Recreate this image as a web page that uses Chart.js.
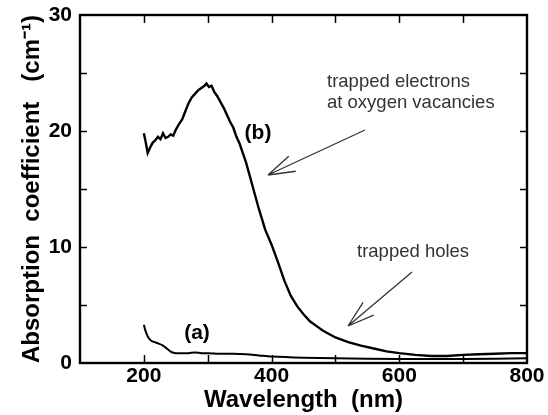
<!DOCTYPE html>
<html>
<head>
<meta charset="utf-8">
<script src="https://cdn.jsdelivr.net/npm/chart.js@4/dist/chart.umd.min.js"></script>
<style>
  html, body { margin: 0; padding: 0; background: #fff; }
  #wrap { width: 548px; height: 415px; }
</style>
</head>
<body>
<div id="wrap"><canvas id="chart" width="548" height="415"></canvas></div>
<script>
/* ── Datos ── */
const waveB = [200, 203, 206, 210, 214, 218, 222, 226, 230, 234, 238, 242, 246, 250, 255,
               260, 265, 270, 275, 280, 285, 290, 295, 298, 302, 306, 310, 315, 320, 325,
               330, 335, 340, 345, 350, 355, 360, 370, 380, 390, 400, 410, 420, 430, 440,
               450, 460, 470, 480, 490, 500, 520, 540, 560, 580, 600, 625, 650, 675, 700,
               725, 750, 775, 800];
const absB  = [19.8, 19.0, 18.1, 18.6, 19.0, 19.2, 19.5, 19.3, 19.8, 19.4, 19.5, 19.7, 19.6, 20.1, 20.6,
               21.0, 21.7, 22.4, 22.9, 23.2, 23.5, 23.7, 23.9, 24.1, 23.8, 23.9, 23.4, 23.0, 22.5, 22.0,
               21.4, 20.8, 20.3, 19.5, 18.9, 18.1, 17.3, 15.3, 13.3, 11.5, 10.2, 8.7, 7.1, 5.8, 4.9,
               4.2, 3.6, 3.2, 2.8, 2.5, 2.2, 1.8, 1.5, 1.25, 1.0, 0.85, 0.7, 0.6, 0.6, 0.7,
               0.75, 0.8, 0.85, 0.85];

const waveA = [200, 203, 207, 212, 217, 222, 230, 237, 243, 250, 260, 270, 280, 290, 300,
               320, 340, 360, 380, 400, 450, 500, 600, 700, 800];
const absA  = [3.3, 2.7, 2.2, 1.9, 1.8, 1.7, 1.5, 1.2, 0.95, 0.85, 0.85, 0.85, 0.9, 0.85, 0.85,
               0.8, 0.8, 0.75, 0.65, 0.55, 0.45, 0.4, 0.35, 0.35, 0.4];

const xTicks = [100, 200, 300, 400, 500, 600, 700, 800];
const yTicks = [0, 5, 10, 15, 20, 25, 30];

/* ── Anotaciones ── */
const notas = [
  { txt: "trapped electrons", x: 327, y: 82 },
  { txt: "at oxygen vacancies", x: 327, y: 103 },
  { txt: "trapped holes", x: 357, y: 252 },
];
const flechas = [
  { from: [365, 130], to: [268, 175] },
  { from: [412, 272], to: [348, 326] },
];

const pts = (xs, ys) => xs.map((x, i) => ({ x, y: ys[i] }));

/* ── Plugin: marco, ticks interiores, textos ── */
const marco = {
  id: "marco",
  afterDraw(chart) {
    const { ctx, chartArea: a, scales } = chart;
    ctx.save();
    ctx.strokeStyle = "#000";
    ctx.lineWidth = 2.4;
    ctx.strokeRect(a.left, a.top, a.right - a.left, a.bottom - a.top);

    // ticks hacia adentro
    ctx.lineWidth = 1.5;
    xTicks.forEach(v => {
      const px = Math.round(scales.x.getPixelForValue(v)) + 0.5;
      if (px <= a.left + 2 || px >= a.right - 2) return;
      ctx.beginPath();
      ctx.moveTo(px, a.bottom); ctx.lineTo(px, a.bottom - 8);
      ctx.moveTo(px, a.top);    ctx.lineTo(px, a.top + 8);
      ctx.stroke();
    });
    yTicks.forEach(v => {
      const py = Math.round(scales.y.getPixelForValue(v)) + 0.5;
      if (py <= a.top + 2 || py >= a.bottom - 2) return;
      ctx.beginPath();
      ctx.moveTo(a.left, py);  ctx.lineTo(a.left + 7, py);
      ctx.moveTo(a.right, py); ctx.lineTo(a.right - 7, py);
      ctx.stroke();
    });

    // etiquetas de curvas
    ctx.fillStyle = "#000";
    ctx.font = "bold 21px 'Liberation Sans', Arial, sans-serif";
    ctx.textAlign = "center";
    ctx.textBaseline = "middle";
    ctx.fillText("(b)", 258, 133);
    ctx.fillText("(a)", 197, 333);

    // notas
    ctx.fillStyle = "#333";
    ctx.font = "18.5px 'Liberation Sans', Arial, sans-serif";
    ctx.textAlign = "left";
    notas.forEach(n => ctx.fillText(n.txt, n.x, n.y));

    // flechas abiertas
    ctx.strokeStyle = "#333";
    ctx.lineWidth = 1.3;
    flechas.forEach(f => {
      const [x0, y0] = f.from, [x1, y1] = f.to;
      const ang = Math.atan2(y1 - y0, x1 - x0);
      ctx.beginPath();
      ctx.moveTo(x0, y0); ctx.lineTo(x1, y1);
      [0.3, -0.3].forEach(d => {
        ctx.moveTo(x1, y1);
        ctx.lineTo(x1 - 28 * Math.cos(ang + d), y1 - 28 * Math.sin(ang + d));
      });
      ctx.stroke();
    });
    ctx.restore();
  },
};

const fuenteTick = { family: "'Liberation Sans', Arial, sans-serif", size: 21, weight: "bold" };
const fuenteTit  = { family: "'Liberation Sans', Arial, sans-serif", size: 24, weight: "bold" };

new Chart(document.getElementById("chart"), {
  type: "line",
  data: {
    datasets: [
      { label: "(b)", data: pts(waveB, absB), borderColor: "#000", borderWidth: 2.4,
        pointRadius: 0, tension: 0, fill: false },
      { label: "(a)", data: pts(waveA, absA), borderColor: "#000", borderWidth: 2,
        pointRadius: 0, tension: 0.3, fill: false },
    ],
  },
  options: {
    responsive: false,
    animation: false,
    devicePixelRatio: 1,
    layout: { padding: { top: 15, right: 21, left: 0, bottom: 0 } },
    plugins: { legend: { display: false }, tooltip: { enabled: false } },
    scales: {
      x: {
        type: "linear", min: 100, max: 800,
        afterBuildTicks: s => { s.ticks = xTicks.map(v => ({ value: v })); },
        afterFit: s => { s.height = 52; s.paddingLeft = 0; s.paddingRight = 0; },
        grid: { display: false, drawTicks: false },
        border: { display: false },
        ticks: {
          autoSkip: false, maxRotation: 0, padding: 1, color: "#000", font: fuenteTick,
          callback: v => (v % 200 === 0 ? v : ""),
        },
        title: { display: true, text: "Wavelength  (nm)", color: "#000", font: fuenteTit,
                 padding: { top: 0, bottom: 0 } },
      },
      y: {
        min: 0, max: 30,
        afterBuildTicks: s => { s.ticks = yTicks.map(v => ({ value: v })); },
        afterFit: s => { s.width = 80; s.paddingTop = 0; s.paddingBottom = 0; },
        grid: { display: false, drawTicks: false },
        border: { display: false },
        ticks: {
          autoSkip: false, padding: 8, color: "#000", font: fuenteTick,
          callback: v => (v % 10 === 0 ? v : ""),
        },
        title: { display: true, text: "Absorption  coefficient   (cm⁻¹)", color: "#000", font: fuenteTit,
                 padding: { top: 18, bottom: 0 } },
      },
    },
  },
  plugins: [marco],
});
</script>
</body>
</html>
